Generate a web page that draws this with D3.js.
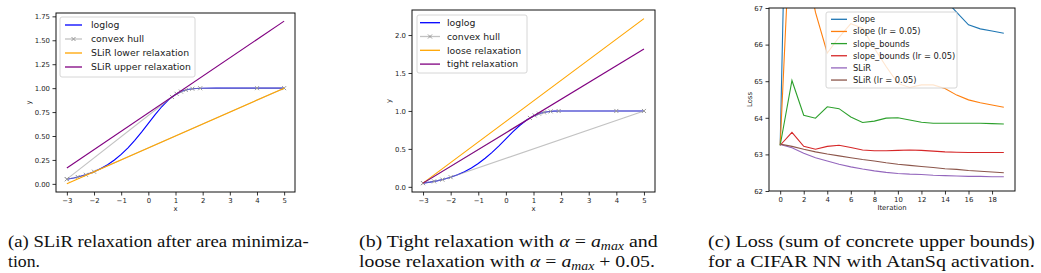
<!DOCTYPE html>
<html>
<head>
<meta charset="utf-8">
<script src="https://cdn.jsdelivr.net/npm/d3@7"></script>
<style>
  body { margin: 0; background: #fff; }
  svg { display: block; }
</style>
</head>
<body>
<div class="container"></div>
<script>
const width = 1041;
const height = 273;
const sans = "DejaVu Sans";

// (a) / (b): loglog curve
const loglogX = [-3, -2.75, -2.5, -2.25, -2, -1.75, -1.5, -1.25, -1, -0.75, -0.5, -0.25, 0, 0.25, 0.5, 0.75, 1, 1.25, 1.5, 1.75, 2, 2.5, 3, 4, 5];
const loglogY = [0.049, 0.062, 0.079, 0.100, 0.127, 0.160, 0.200, 0.249, 0.308, 0.377, 0.455, 0.541, 0.632, 0.723, 0.808, 0.880, 0.934, 0.970, 0.989, 0.997, 0.999, 1.0, 1.0, 1.0, 1.0];

// convex hull polygon (marker points)
const hullX = [-3, -2.6, -2.3, -2.0, 5, 4.0, 1.91, 1.62, 1.38, 1.2, 1.04, 0.87, -3];
const hullY = [0.049, 0.072, 0.095, 0.127, 1.0, 1.0, 0.999, 0.994, 0.981, 0.964, 0.941, 0.908, 0.049];

// linear relaxations, endpoints at x = -3 and x = 5
const relaxX = [-3, 5];
const slirLowerY = [0.0, 1.0];
const slirUpperY = [0.165, 1.70];
const looseY = [0.049, 2.217];
const tightY = [0.049, 1.817];

// (c): loss per iteration
const iterations = [0, 1, 2, 3, 4, 5, 6, 7, 8, 9, 10, 11, 12, 13, 14, 15, 16, 17, 18, 19];
const lossSlope = [63.25, 78, 77.5, 77, 76, 75, 74, 73, 72, 71, 70, 69.5, 69, 68.2, 67.23, 66.88, 66.54, 66.43, 66.37, 66.31];
const lossSlopeLr = [63.25, 70.2, 68.5, 66.88, 65.77, 66.2, 66.57, 66.45, 65.9, 65.4, 64.94, 64.83, 64.9, 64.9, 64.8, 64.62, 64.49, 64.41, 64.35, 64.29];
const lossBounds = [63.25, 65.02, 64.07, 63.99, 64.3, 64.25, 64.02, 63.87, 63.91, 63.99, 64.0, 63.94, 63.88, 63.85, 63.85, 63.85, 63.85, 63.85, 63.84, 63.83];
const lossBoundsLr = [63.25, 63.6, 63.22, 63.14, 63.22, 63.25, 63.19, 63.12, 63.1, 63.1, 63.11, 63.12, 63.11, 63.09, 63.07, 63.06, 63.05, 63.05, 63.05, 63.05];
const lossSlir = [63.27, 63.18, 63.03, 62.91, 62.82, 62.73, 62.66, 62.6, 62.55, 62.51, 62.48, 62.46, 62.45, 62.43, 62.42, 62.41, 62.4, 62.4, 62.39, 62.39];
const lossSlirLr = [63.28, 63.22, 63.14, 63.07, 63.01, 62.96, 62.91, 62.86, 62.82, 62.77, 62.73, 62.7, 62.67, 62.64, 62.61, 62.59, 62.56, 62.54, 62.52, 62.5];

const svg = d3.select(".container")
    .append("svg")
    .attr("width", width)
    .attr("height", height)
    .attr("viewBox", [0, 0, width, height]);

const minus = (f) => (d) => f(d).replace("-", "\u2212");

function zipXY(xs, ys) {
    return xs.map((v, i) => [v, ys[i]]);
}

function drawPanel(cfg) {
    const x = d3.scaleLinear().domain(cfg.xDomain).range([cfg.left, cfg.right]);
    const y = d3.scaleLinear().domain(cfg.yDomain).range([cfg.bottom, cfg.top]);

    const clipId = "clip-" + cfg.id;
    svg.append("clipPath").attr("id", clipId)
        .append("rect")
        .attr("x", cfg.left).attr("y", cfg.top)
        .attr("width", cfg.right - cfg.left).attr("height", cfg.bottom - cfg.top);

    const plot = svg.append("g").attr("clip-path", `url(#${clipId})`);
    const line = d3.line().x(d => x(d[0])).y(d => y(d[1]));

    cfg.series.forEach(s => {
        const pts = zipXY(s.xs, s.ys);
        plot.append("path")
            .datum(pts)
            .attr("d", line)
            .attr("fill", "none")
            .attr("stroke", s.color)
            .attr("stroke-width", s.width || 1.1)
            .attr("stroke-opacity", s.opacity || 1);
        if (s.marker) {
            plot.append("g").selectAll("path")
                .data(pts)
                .join("path")
                .attr("d", "M-2,-2L2,2M-2,2L2,-2")
                .attr("transform", d => `translate(${x(d[0])},${y(d[1])})`)
                .attr("stroke", s.color)
                .attr("stroke-width", 1);
        }
    });

    // axes
    const xAxis = svg.append("g")
        .attr("transform", `translate(0,${cfg.bottom})`)
        .call(d3.axisBottom(x).tickValues(cfg.xTicks).tickFormat(minus(cfg.xFormat))
            .tickSize(3.5).tickSizeOuter(0).tickPadding(2.5));
    const yAxis = svg.append("g")
        .attr("transform", `translate(${cfg.left},0)`)
        .call(d3.axisLeft(y).tickValues(cfg.yTicks).tickFormat(minus(cfg.yFormat))
            .tickSize(3.5).tickSizeOuter(0).tickPadding(2.5));
    [xAxis, yAxis].forEach(a => {
        a.select(".domain").remove();
        a.selectAll("line").attr("stroke", "#000").attr("stroke-width", 0.8);
        a.selectAll("text")
            .attr("font-family", sans)
            .attr("font-size", "6.9px")
            .attr("fill", "#222");
    });

    svg.append("rect")
        .attr("x", cfg.left).attr("y", cfg.top)
        .attr("width", cfg.right - cfg.left).attr("height", cfg.bottom - cfg.top)
        .attr("fill", "none")
        .attr("stroke", "#111")
        .attr("stroke-width", 1);

    svg.append("text")
        .attr("x", (cfg.left + cfg.right) / 2)
        .attr("y", cfg.bottom + 19)
        .attr("text-anchor", "middle")
        .attr("font-family", sans).attr("font-size", "6.9px").attr("fill", "#222")
        .text(cfg.xLabel);
    svg.append("text")
        .attr("transform", `translate(${cfg.yLabelX},${(cfg.top + cfg.bottom) / 2}) rotate(-90)`)
        .attr("text-anchor", "middle")
        .attr("font-family", sans).attr("font-size", "6.9px").attr("fill", "#222")
        .text(cfg.yLabel);

    // legend
    const lg = cfg.legend;
    svg.append("rect")
        .attr("x", lg.x).attr("y", lg.y)
        .attr("width", lg.w).attr("height", lg.h)
        .attr("rx", 2)
        .attr("fill", "#fff").attr("fill-opacity", 0.8)
        .attr("stroke", "#ccc").attr("stroke-width", 0.8);
    cfg.series.forEach((s, i) => {
        const ry = lg.y + lg.first + i * lg.step;
        svg.append("line")
            .attr("x1", lg.x + lg.h1).attr("x2", lg.x + lg.h2)
            .attr("y1", ry).attr("y2", ry)
            .attr("stroke", s.color)
            .attr("stroke-width", 1.3)
            .attr("stroke-opacity", s.opacity || 1);
        if (s.marker) {
            svg.append("path")
                .attr("d", "M-2,-2L2,2M-2,2L2,-2")
                .attr("transform", `translate(${lg.x + (lg.h1 + lg.h2) / 2},${ry})`)
                .attr("stroke", s.color).attr("stroke-width", 1);
        }
        svg.append("text")
            .attr("x", lg.x + lg.tx)
            .attr("y", ry)
            .attr("dy", "0.35em")
            .attr("font-family", sans)
            .attr("font-size", lg.size)
            .attr("fill", "#222")
            .text(s.name);
    });
}

drawPanel({
    id: "a",
    left: 56, right: 295, top: 13, bottom: 192,
    xDomain: [-3.4, 5.4], yDomain: [-0.085, 1.785],
    xTicks: [-3, -2, -1, 0, 1, 2, 3, 4, 5], xFormat: d3.format("d"),
    yTicks: [0, 0.25, 0.5, 0.75, 1, 1.25, 1.5, 1.75], yFormat: d3.format(".2f"),
    xLabel: "x", yLabel: "y", yLabelX: 31,
    series: [
        { name: "loglog", xs: loglogX, ys: loglogY, color: "blue" },
        { name: "convex hull", xs: hullX, ys: hullY, color: "#999", opacity: 0.6, marker: true },
        { name: "SLiR lower relaxation", xs: relaxX, ys: slirLowerY, color: "orange" },
        { name: "SLiR upper relaxation", xs: relaxX, ys: slirUpperY, color: "purple" }
    ],
    legend: { x: 60, y: 17, w: 135, h: 60, first: 8, step: 14, h1: 5, h2: 22, tx: 31, size: "9.3px" }
});

drawPanel({
    id: "b",
    left: 412, right: 655, top: 10, bottom: 192,
    xDomain: [-3.4, 5.4], yDomain: [-0.068, 2.33],
    xTicks: [-3, -2, -1, 0, 1, 2, 3, 4, 5], xFormat: d3.format("d"),
    yTicks: [0, 0.5, 1, 1.5, 2], yFormat: d3.format(".1f"),
    xLabel: "x", yLabel: "y", yLabelX: 391,
    series: [
        { name: "loglog", xs: loglogX, ys: loglogY, color: "blue" },
        { name: "convex hull", xs: hullX, ys: hullY, color: "#999", opacity: 0.6, marker: true },
        { name: "loose relaxation", xs: relaxX, ys: looseY, color: "orange" },
        { name: "tight relaxation", xs: relaxX, ys: tightY, color: "purple" }
    ],
    legend: { x: 417, y: 15, w: 110, h: 58, first: 7.7, step: 13.8, h1: 3, h2: 23, tx: 30, size: "9.3px" }
});

drawPanel({
    id: "c",
    left: 769, right: 1015, top: 8, bottom: 191,
    xDomain: [-0.95, 19.95], yDomain: [62, 67],
    xTicks: [0, 2, 4, 6, 8, 10, 12, 14, 16, 18], xFormat: d3.format("d"),
    yTicks: [62, 63, 64, 65, 66, 67], yFormat: d3.format("d"),
    xLabel: "Iteration", yLabel: "Loss", yLabelX: 752,
    series: [
        { name: "slope", xs: iterations, ys: lossSlope, color: "#1f77b4" },
        { name: "slope (lr = 0.05)", xs: iterations, ys: lossSlopeLr, color: "#ff7f0e" },
        { name: "slope_bounds", xs: iterations, ys: lossBounds, color: "#2ca02c" },
        { name: "slope_bounds (lr = 0.05)", xs: iterations, ys: lossBoundsLr, color: "#d62728" },
        { name: "SLiR", xs: iterations, ys: lossSlir, color: "#9467bd" },
        { name: "SLiR (lr = 0.05)", xs: iterations, ys: lossSlirLr, color: "#8c564b" }
    ],
    legend: { x: 826, y: 12, w: 131, h: 76, first: 7.3, step: 12.15, h1: 5, h2: 21, tx: 27, size: "8.3px" }
});

// captions (LaTeX-style subfigure captions), squeezed to the widths in the page
const serif = "'Liberation Serif', 'Times New Roman', Times, serif";
function caption(x0, x1, yBase, parts) {
    const g = svg.append("g");
    const t = g.append("text")
        .attr("font-family", serif)
        .attr("font-size", "16.5px")
        .attr("fill", "#111");
    parts.forEach(p => {
        const span = t.append("tspan").text(p.t);
        if (p.i) span.attr("font-style", "italic");
        if (p.sub) span.attr("font-size", "11.5px").attr("dy", "3");
        if (p.up) span.attr("dy", "-3");
    });
    const w = t.node().getComputedTextLength();
    g.attr("transform", `translate(${x0},${yBase}) scale(${(x1 - x0) / w},1)`);
}

caption(8, 309, 247, [{ t: "(a) SLiR relaxation after area minimiza-" }]);
caption(8, 40, 267, [{ t: "tion." }]);

caption(359, 658, 247, [
    { t: "(b) Tight relaxation with " }, { t: "\u03b1", i: true }, { t: " = " },
    { t: "a", i: true }, { t: "max", i: true, sub: true }, { t: " and", up: true }
]);
caption(359, 655, 267, [
    { t: "loose relaxation with " }, { t: "\u03b1", i: true }, { t: " = " },
    { t: "a", i: true }, { t: "max", i: true, sub: true }, { t: " + 0.05.", up: true }
]);

caption(708, 1035, 247, [{ t: "(c) Loss (sum of concrete upper bounds)" }]);
caption(708, 1035, 267, [{ t: "for a CIFAR NN with AtanSq activation." }]);
</script>
</body>
</html>
